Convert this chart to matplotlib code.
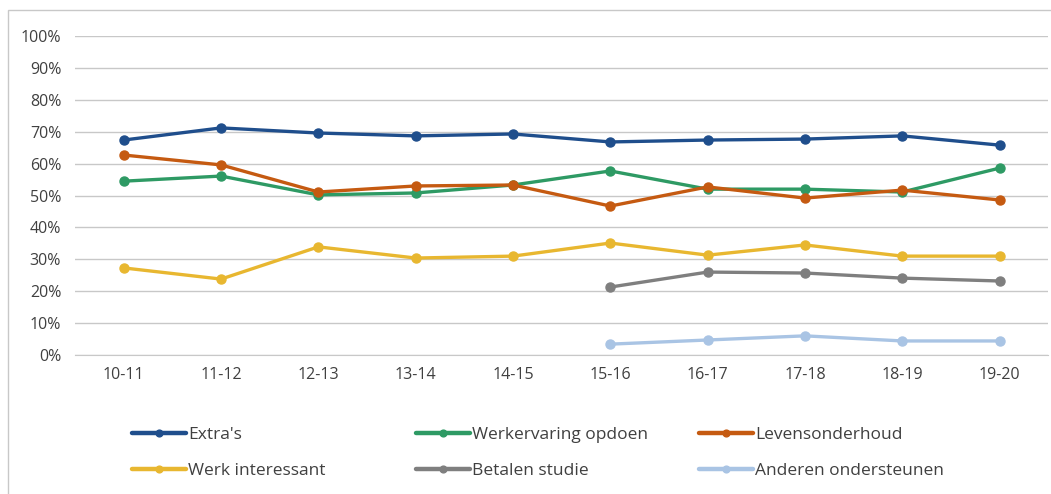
import matplotlib.pyplot as plt
import numpy as np
from matplotlib.patches import Rectangle

years = ['10-11', '11-12', '12-13', '13-14', '14-15', '15-16', '16-17', '17-18', '18-19', '19-20']
extras = [67.4, 71.2, 69.6, 68.7, 69.3, 66.8, 67.4, 67.7, 68.7, 65.8]
werkervaring = [54.5, 56.1, 50.2, 50.8, 53.3, 57.7, 52.0, 52.0, 51.1, 58.6]
levensonderhoud = [62.7, 59.6, 51.1, 53.0, 53.3, 46.7, 52.7, 49.2, 51.7, 48.6]
werk_interessant = [27.3, 23.8, 33.9, 30.4, 31.0, 35.1, 31.3, 34.5, 31.0, 31.0]
betalen_studie = [21.3, 26.0, 25.7, 24.1, 23.2]
anderen = [3.4, 4.7, 6.0, 4.4, 4.4]

series = [
    ("Extra's", extras, '#1f4e8c'),
    ('Werkervaring opdoen', werkervaring, '#2e9a64'),
    ('Levensonderhoud', levensonderhoud, '#c55a11'),
    ('Werk interessant', werk_interessant, '#e8b730'),
    ('Betalen studie', betalen_studie, '#7f7f7f'),
    ('Anderen ondersteunen', anderen, '#a9c4e4'),
]

plt.rcParams['font.family'] = ['Open Sans', 'DejaVu Sans']

fig = plt.figure(figsize=(10.51, 4.94), dpi=100)
ax = fig.add_axes([0.0714, 0.2814, 0.926, 0.6456])

x = np.arange(len(years))
handles = {}
for name, vals, col in series:
    xs = x[len(years) - len(vals):]
    h, = ax.plot(xs, vals, color=col, lw=2.4, marker='o', ms=6.5, label=name,
                 solid_capstyle='round')
    handles[name] = h

ax.set_xlim(-0.5, len(years) - 0.5)
ax.set_ylim(0, 100)
ax.set_yticks(np.arange(0, 101, 10))
ax.set_yticklabels([f'{v}%' for v in range(0, 101, 10)])
ax.set_xticks(x)
ax.set_xticklabels(years)
ax.tick_params(axis='both', length=0, labelsize=11.5, colors='#404040')
ax.tick_params(axis='x', pad=9)
ax.tick_params(axis='y', pad=10)
ax.yaxis.grid(True, color='#c8c8c8', lw=1)
ax.set_axisbelow(True)
for s in ['top', 'right', 'left']:
    ax.spines[s].set_visible(False)
ax.spines['bottom'].set_color('#c8c8c8')

# legend: three columns, placed one by one
columns = [("Extra's", 'Werk interessant'),
           ('Werkervaring opdoen', 'Betalen studie'),
           ('Levensonderhoud', 'Anderen ondersteunen')]
col_x = [132, 416, 699]
for names, px in zip(columns, col_x):
    leg = fig.legend([handles[n] for n in names], names, loc='upper left',
                     bbox_to_anchor=(px / 1051, 1 - 427 / 494), frameon=False,
                     fontsize=12.5, handlelength=3.1, handletextpad=0.15,
                     labelspacing=1.15, borderaxespad=0, borderpad=0,
                     markerscale=0.75)
    for t in leg.get_texts():
        t.set_color('#404040')
    for ln in leg.get_lines():
        ln.set_linewidth(3.2)

fig.patches.append(Rectangle((8 / 1051, -0.01), 1.0, 1 - 10 / 494 + 0.01,
                             transform=fig.transFigure, fill=False,
                             edgecolor='#c8c8c8', lw=1))

fig.savefig('out.png', dpi=100)
